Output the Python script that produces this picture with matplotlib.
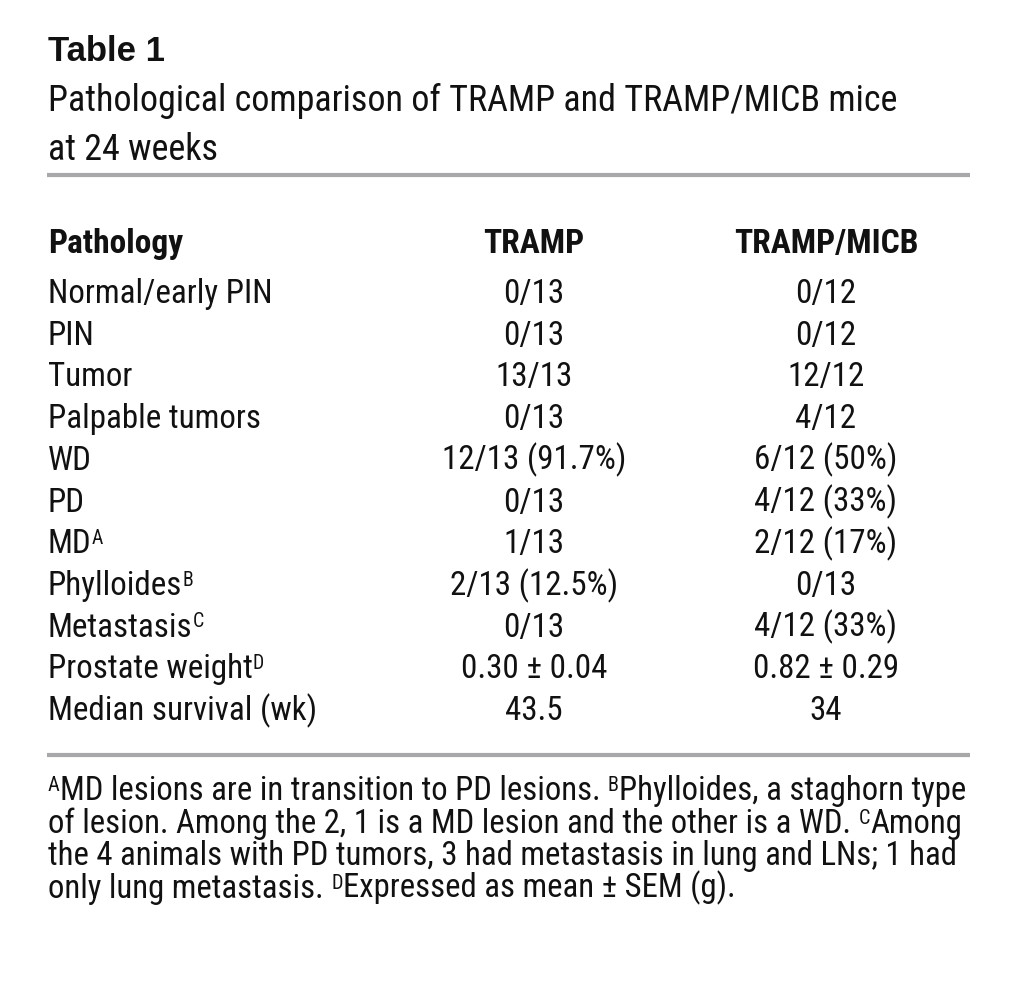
import matplotlib
matplotlib.use("Agg")
import matplotlib.pyplot as plt
from matplotlib.lines import Line2D
from matplotlib import font_manager

W, H = 1018, 1005

title = "Table 1"
subtitle = ["Pathological comparison of TRAMP and TRAMP/MICB mice", "at 24 weeks"]
headers = ["Pathology", "TRAMP", "TRAMP/MICB"]
pathology = ["Normal/early PIN", "PIN", "Tumor", "Palpable tumors", "WD", "PD", "MD",
             "Phylloides", "Metastasis", "Prostate weight", "Median survival (wk)"]
marks = ["", "", "", "", "", "", "A", "B", "C", "D", ""]
tramp = ["0/13", "0/13", "13/13", "0/13", "12/13 (91.7%)", "0/13", "1/13",
         "2/13 (12.5%)", "0/13", "0.30 \u00b1 0.04", "43.5"]
tramp_micb = ["0/12", "0/12", "12/12", "4/12", "6/12 (50%)", "4/12 (33%)", "2/12 (17%)",
              "0/13", "4/12 (33%)", "0.82 \u00b1 0.29", "34"]
footnotes = [
    [("A", True), ("MD lesions are in transition to PD lesions. ", False), ("B", True),
     ("Phylloides, a staghorn type", False)],
    [("of lesion. Among the 2, 1 is a MD lesion and the other is a WD. ", False), ("C", True),
     ("Among", False)],
    [("the 4 animals with PD tumors, 3 had metastasis in lung and LNs; 1 had", False)],
    [("only lung metastasis. ", False), ("D", True), ("Expressed as mean \u00b1 SEM (g).", False)],
]

names = {f.name for f in font_manager.fontManager.ttflist}
COND = "Roboto Condensed" if "Roboto Condensed" in names else "Liberation Sans"
FAM = [COND, "DejaVu Sans"]
TFAM = ["Liberation Sans", "DejaVu Sans"]
TXT = "#111111"
RULE = "#a8a8aa"

fig = plt.figure(figsize=(W / 100, H / 100), dpi=100)
fig.patch.set_facecolor("white")
renderer = fig.canvas.get_renderer()


def P(x, y):
    return x / W, 1 - y / H


def put(x, y, s, size, weight="normal", ha="left", fam=FAM):
    return fig.text(*P(x, y), s, fontsize=size, fontweight=weight, family=fam,
                    ha=ha, va="baseline", color=TXT)


def width(t):
    return t.get_window_extent(renderer).width


def fit(s, target, weight="normal", fam=FAM):
    t = fig.text(0, 0, s, fontsize=20, fontweight=weight, family=fam)
    w = width(t)
    t.remove()
    return 20 * target / w


def space_w(size):
    a = fig.text(0, 0, "a a", fontsize=size, family=FAM)
    b = fig.text(0, 0, "aa", fontsize=size, family=FAM)
    w = width(a) - width(b)
    a.remove(); b.remove()
    return w


def seq(x, y, segs, size, supsize, rise):
    sw = space_w(size)
    for s, sup in segs:
        trail = s.endswith(" ")
        s2 = s.rstrip(" ")
        if sup:
            t = put(x, y - rise, s2, supsize)
        else:
            t = put(x, y, s2, size)
        x += width(t) + (sw if trail else 0)


def rule(y):
    fig.add_artist(Line2D([P(47, y)[0], P(970, y)[0]], [P(47, y)[1]] * 2,
                          color=RULE, lw=3.0, transform=fig.transFigure, solid_capstyle="butt"))


CAP = 0.711 * 100 / 72  # cap height in px per point

# title block
put(48, 61, title, fit(title, 117, "bold", TFAM), weight="bold", fam=TFAM)
SUB = fit(subtitle[0], 849)
put(48, 111, subtitle[0], SUB)
put(48, 160, subtitle[1], SUB)
rule(175)

# header
col_x = [48, 534, 826]
HDR = fit(headers[0], 135, "bold")
hy = 253
put(col_x[0], hy, headers[0], HDR, weight="bold")
put(col_x[1], hy, headers[1], HDR, weight="bold", ha="center")
put(col_x[2], hy, headers[2], HDR, weight="bold", ha="center")

# body rows
ROW = fit(pathology[0], 224)
SUPR = ROW * 0.6
y0, dy = 303, 41.7
for i, name in enumerate(pathology):
    y = y0 + i * dy
    t = put(col_x[0], y, name, ROW)
    if marks[i]:
        put(col_x[0] + width(t), y - (ROW - SUPR) * CAP, marks[i], SUPR)
    put(col_x[1], y, tramp[i], ROW, ha="center")
    put(col_x[2], y, tramp_micb[i], ROW, ha="center")

rule(755)

# footnotes
FN = fit(footnotes[2][0][0], 907)
SUPF = FN * 0.62
fy0, fdy = 800, 32.5
for i, segs in enumerate(footnotes):
    seq(48, fy0 + i * fdy, segs, FN, SUPF, (FN - SUPF) * CAP)

fig.savefig("out.png", dpi=100, facecolor="white")
